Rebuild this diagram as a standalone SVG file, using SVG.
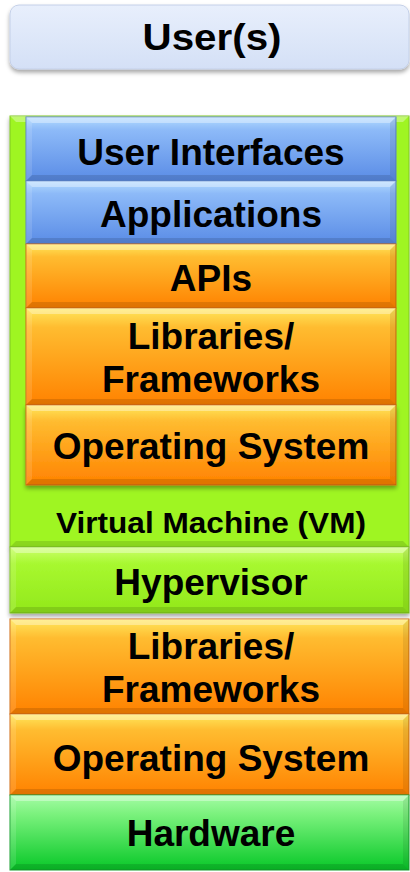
<svg xmlns="http://www.w3.org/2000/svg" width="410" height="872" viewBox="0 0 410 872">
<defs>
<style>
.lbl{font-family:"Liberation Sans",Arial,Helvetica,sans-serif;font-weight:bold;font-size:37px;text-anchor:middle;fill:#000}
.vm{font-size:29px}
.blue{fill:url(#gBlue);stroke:#5a82c8;stroke-width:1}
.orange{fill:url(#gOrange);stroke:#d06a10;stroke-width:1}
.lime{fill:url(#gLime);stroke:#7cc020;stroke-width:1}
.vmbox{fill:#9ff524;stroke:#80c820;stroke-width:1}
.hw{fill:url(#gHW);stroke:#18a030;stroke-width:1}
.user{fill:url(#gUser);stroke:#c4d0e8;stroke-width:1}
.hi{fill:#ffffff;opacity:0.35}
.sideL{fill:#ffffff;opacity:0.12}
.sideR{fill:#000000;opacity:0.08}
.lo{fill:#000000;opacity:0.12}
</style>
<linearGradient id="gBlue" x1="0" y1="0" x2="0" y2="1">
<stop offset="0" stop-color="#b4dcff"/><stop offset="0.2" stop-color="#8dbaf8"/><stop offset="1" stop-color="#5a8ce6"/>
</linearGradient>
<linearGradient id="gOrange" x1="0" y1="0" x2="0" y2="1">
<stop offset="0" stop-color="#ffe85c"/><stop offset="0.2" stop-color="#ffbc30"/><stop offset="1" stop-color="#ff8200"/>
</linearGradient>
<linearGradient id="gLime" x1="0" y1="0" x2="0" y2="1">
<stop offset="0" stop-color="#ccff70"/><stop offset="0.25" stop-color="#a8f830"/><stop offset="1" stop-color="#92e81a"/>
</linearGradient>
<linearGradient id="gHW" x1="0" y1="0" x2="0" y2="1">
<stop offset="0" stop-color="#a6fca6"/><stop offset="0.25" stop-color="#7cf27e"/><stop offset="1" stop-color="#08c828"/>
</linearGradient>
<linearGradient id="gUser" x1="0" y1="0" x2="0" y2="1">
<stop offset="0" stop-color="#e8effc"/><stop offset="1" stop-color="#d4e0f6"/>
</linearGradient>
<filter id="sh" x="-5%" y="-5%" width="110%" height="120%">
<feDropShadow dx="0" dy="3" stdDeviation="2" flood-color="#000" flood-opacity="0.35"/>
</filter>
</defs>

<g id="users">
<rect class="user" x="10" y="5" width="399" height="64" rx="9" filter="url(#sh)"/>
<text class="lbl" x="212" y="50" textLength="139" lengthAdjust="spacingAndGlyphs">User(s)</text>
</g>

<g id="virtual-machine">
<rect class="vmbox" x="10" y="116" width="399" height="431" filter="url(#sh)"/>
<polygon class="hi" points="10,116 409,116 403,122 16,122"/>
<polygon class="lo" points="16,541 403,541 409,547 10,547"/>
<text class="lbl vm" x="211" y="533" textLength="310" lengthAdjust="spacingAndGlyphs">Virtual Machine (VM)</text>
</g>

<g id="user-interfaces">
<rect class="blue" x="26" y="117" width="370" height="64"/>
<polygon class="hi" points="26,117 396,117 390,123 32,123"/>
<polygon class="sideL" points="26,117 32,123 32,175 26,181"/>
<polygon class="sideR" points="396,117 390,123 390,175 396,181"/>
<polygon class="lo" points="32,175 390,175 396,181 26,181"/>
<text class="lbl" x="211" y="165">User Interfaces</text>
</g>

<g id="applications">
<rect class="blue" x="26" y="181" width="370" height="63"/>
<polygon class="hi" points="26,181 396,181 390,187 32,187"/>
<polygon class="sideL" points="26,181 32,187 32,238 26,244"/>
<polygon class="sideR" points="396,181 390,187 390,238 396,244"/>
<polygon class="lo" points="32,238 390,238 396,244 26,244"/>
<text class="lbl" x="211" y="227">Applications</text>
</g>

<g id="apis">
<rect class="orange" x="26" y="244" width="370" height="64"/>
<polygon class="hi" points="26,244 396,244 390,250 32,250"/>
<polygon class="sideL" points="26,244 32,250 32,302 26,308"/>
<polygon class="sideR" points="396,244 390,250 390,302 396,308"/>
<polygon class="lo" points="32,302 390,302 396,308 26,308"/>
<text class="lbl" x="211" y="291">APIs</text>
</g>

<g id="vm-libraries">
<rect class="orange" x="26" y="308" width="370" height="97"/>
<polygon class="hi" points="26,308 396,308 390,314 32,314"/>
<polygon class="sideL" points="26,308 32,314 32,399 26,405"/>
<polygon class="sideR" points="396,308 390,314 390,399 396,405"/>
<polygon class="lo" points="32,399 390,399 396,405 26,405"/>
<text class="lbl" x="211" y="349">Libraries/</text>
<text class="lbl" x="211" y="392">Frameworks</text>
</g>

<g id="vm-os">
<rect class="orange" x="26" y="405" width="370" height="80" filter="url(#sh)"/>
<polygon class="hi" points="26,405 396,405 390,411 32,411"/>
<polygon class="sideL" points="26,405 32,411 32,479 26,485"/>
<polygon class="sideR" points="396,405 390,411 390,479 396,485"/>
<polygon class="lo" points="32,479 390,479 396,485 26,485"/>
<text class="lbl" x="211" y="459">Operating System</text>
</g>

<g id="hypervisor">
<rect class="lime" x="10" y="547" width="399" height="66" filter="url(#sh)"/>
<polygon class="hi" points="10,547 409,547 403,553 16,553"/>
<polygon class="sideL" points="10,547 16,553 16,607 10,613"/>
<polygon class="sideR" points="409,547 403,553 403,607 409,613"/>
<polygon class="lo" points="16,607 403,607 409,613 10,613"/>
<text class="lbl" x="211" y="595">Hypervisor</text>
</g>

<g id="host-libraries">
<rect class="orange" x="10" y="619" width="399" height="95"/>
<polygon class="hi" points="10,619 409,619 403,625 16,625"/>
<polygon class="sideL" points="10,619 16,625 16,708 10,714"/>
<polygon class="sideR" points="409,619 403,625 403,708 409,714"/>
<polygon class="lo" points="16,708 403,708 409,714 10,714"/>
<text class="lbl" x="211" y="659">Libraries/</text>
<text class="lbl" x="211" y="702">Frameworks</text>
</g>

<g id="host-os">
<rect class="orange" x="10" y="714" width="399" height="81"/>
<polygon class="hi" points="10,714 409,714 403,720 16,720"/>
<polygon class="sideL" points="10,714 16,720 16,789 10,795"/>
<polygon class="sideR" points="409,714 403,720 403,789 409,795"/>
<polygon class="lo" points="16,789 403,789 409,795 10,795"/>
<text class="lbl" x="211" y="771">Operating System</text>
</g>

<g id="hardware">
<rect class="hw" x="10" y="795" width="399" height="75"/>
<polygon class="hi" points="10,795 409,795 403,801 16,801"/>
<polygon class="sideL" points="10,795 16,801 16,864 10,870"/>
<polygon class="sideR" points="409,795 403,801 403,864 409,870"/>
<polygon class="lo" points="16,864 403,864 409,870 10,870"/>
<text class="lbl" x="211" y="846">Hardware</text>
</g>
</svg>
